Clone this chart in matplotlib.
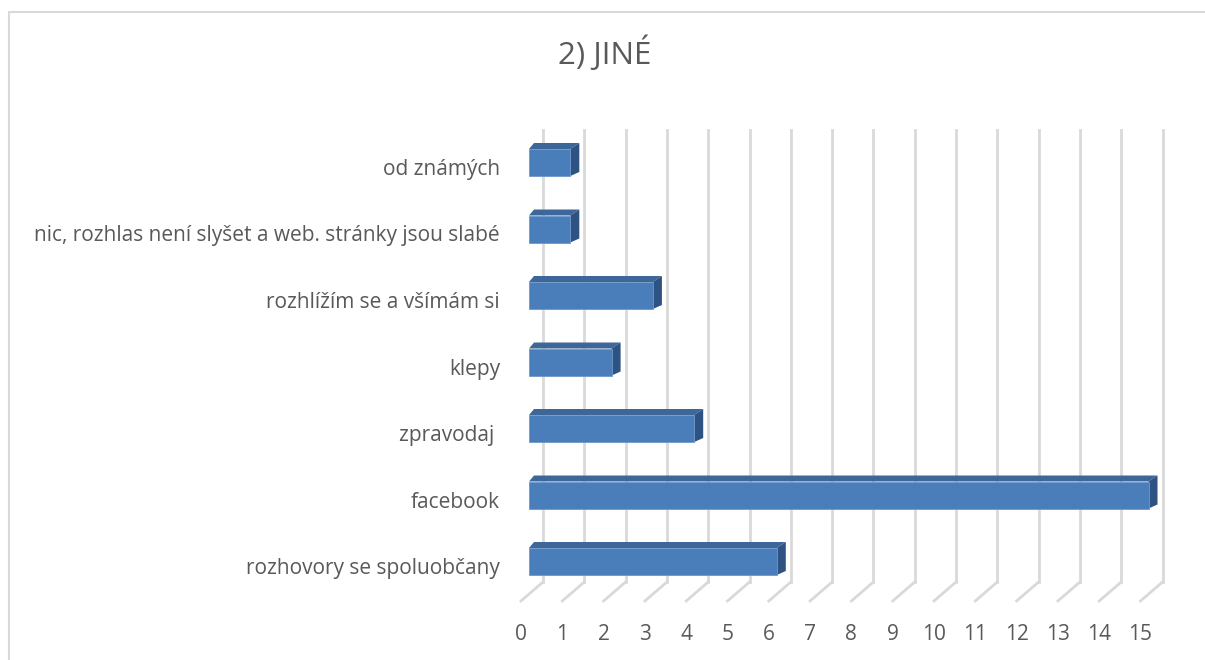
import matplotlib.pyplot as plt
from matplotlib.patches import Polygon

# data (bottom to top)
kategorie = ['rozhovory se spoluobčany', 'facebook', 'zpravodaj ', 'klepy',
             'rozhlížím se a všímám si',
             'nic, rozhlas není slyšet a web. stránky jsou slabé', 'od známých']
hodnoty = [6, 15, 4, 2, 3, 1, 1]
ticky = list(range(0, 16))

plt.rcParams['font.family'] = ['Open Sans', 'DejaVu Sans']
seda = '#595959'

W, H = 1205, 660
fig = plt.figure(figsize=(W / 100, H / 100), dpi=100)

# px per unit
ux = 41.3
uy = 66.5
x0px, y0px = 529, 561.5
xl = (-0.5, 15.8)
yl = (-0.729, 6.639)
left = x0px + xl[0] * ux
right = x0px + xl[1] * ux
bottom = y0px - yl[0] * uy
top = y0px - yl[1] * uy
ax = fig.add_axes([left / W, 1 - bottom / H, (right - left) / W, (bottom - top) / H])
ax.set_xlim(*xl)
ax.set_ylim(*yl)
ax.axis('off')

# chart border
fig.patches.append(plt.Rectangle((9 / W, -0.1), 1.2, 1 - 11.5 / H + 0.1,
                                 transform=fig.transFigure, fill=False,
                                 edgecolor='#d9d9d9', linewidth=1.5))

# 3D offsets in data units
back_dx = 14 / ux
front_dx = -8 / ux
floor_back = (y0px - 582) / uy
floor_front = (y0px - 601) / uy
grid_top = (y0px - 130) / uy

for v in ticky:
    ax.plot([v + back_dx, v + back_dx], [floor_back, grid_top], color='#d9d9d9', lw=2, zorder=1)
    ax.plot([v + back_dx, v + front_dx], [floor_back, floor_front], color='#d9d9d9', lw=2, zorder=1)
    ax.text(v + front_dx, (y0px - 635) / uy, str(v), ha='center', va='center',
            fontsize=15, color=seda, clip_on=False)

hb = 13.5 / uy
dxl, dxr, dy = 5 / ux, 9 / ux, 6 / uy
for i, (kat, v) in enumerate(zip(kategorie, hodnoty)):
    y1, y2 = i - hb, i + hb
    ax.add_patch(Polygon([(0, y2), (v, y2), (v + dxr, y2 + dy), (dxl, y2 + dy)],
                         closed=True, facecolor='#3d6699', edgecolor='none', zorder=3))
    ax.add_patch(Polygon([(v, y1), (v, y2), (v + dxr, y2 + dy), (v + dxr, y1 + 4 / uy)],
                         closed=True, facecolor='#2e5281', edgecolor='none', zorder=3))
    ax.add_patch(plt.Rectangle((0, y1), v, y2 - y1, facecolor='#4a7ebb',
                               edgecolor='#6f97cc', lw=0.6, zorder=4))
    ax.text(-29 / ux, i - 7 / uy, kat, ha='right', va='center', fontsize=15,
            color=seda, clip_on=False)

fig.text(605 / W, 1 - 53 / H, '2) JINÉ', ha='center', va='center', fontsize=22.5, color=seda)

plt.savefig('out.png', dpi=100)
